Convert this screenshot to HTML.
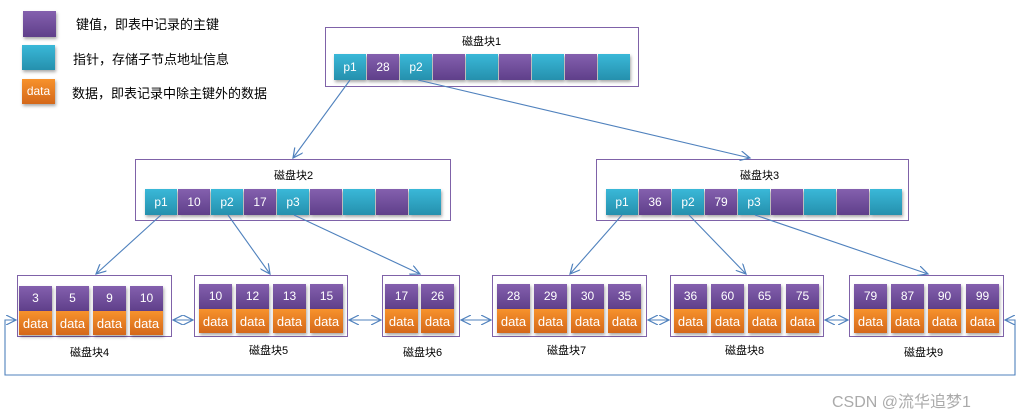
<!DOCTYPE html>
<html><head><meta charset="utf-8"><style>
body{margin:0;width:1020px;height:417px;background:#fff;position:relative;overflow:hidden;font-family:"Liberation Sans","Noto Sans CJK SC",sans-serif}
div{position:absolute;box-sizing:border-box}
.b{border:1.5px solid #7f62a8;background:#fff}
.c{width:32px;height:26px;color:#fff;font-size:12px;text-align:center;line-height:26px;box-shadow:1px 2px 3px rgba(0,0,0,.35)}
.k{background:linear-gradient(#8460ae,#5f3f8a)}
.p{background:linear-gradient(#3ab8d8,#2590ad)}
.d{background:linear-gradient(#f7922c,#d4681a);height:24px;line-height:23px;font-size:13px}
.lk{width:33px;height:25px;line-height:25px}
.t{font-size:11px;color:#000;white-space:nowrap}
.lg{font-size:13px;color:#000;white-space:nowrap}
svg{position:absolute;left:0;top:0}
</style></head><body>
<div class="c k" style="left:23px;top:11px;width:33px;height:26px"></div>
<div class="c p" style="left:22px;top:45px;width:33px;height:25px"></div>
<div class="c d" style="left:22px;top:79px;width:33px;height:25px;line-height:24px;font-size:12px">data</div>
<div class="lg" style="left:76px;top:14px">键值，即表中记录的主键</div>
<div class="lg" style="left:73px;top:49px">指针，存储子节点地址信息</div>
<div class="lg" style="left:72px;top:83px">数据，即表记录中除主键外的数据</div>

<div class="b" style="left:325px;top:27px;width:314px;height:60px"></div>
<div class="t" style="left:462px;top:33px">磁盘块1</div>
<div class="c p" style="left:334px;top:54px">p1</div><div class="c k" style="left:367px;top:54px">28</div><div class="c p" style="left:400px;top:54px">p2</div><div class="c k" style="left:433px;top:54px"></div><div class="c p" style="left:466px;top:54px"></div><div class="c k" style="left:499px;top:54px"></div><div class="c p" style="left:532px;top:54px"></div><div class="c k" style="left:565px;top:54px"></div><div class="c p" style="left:598px;top:54px"></div>

<div class="b" style="left:135px;top:159px;width:316px;height:62px"></div>
<div class="t" style="left:274px;top:167px">磁盘块2</div>
<div class="c p" style="left:145px;top:189px">p1</div><div class="c k" style="left:178px;top:189px">10</div><div class="c p" style="left:211px;top:189px">p2</div><div class="c k" style="left:244px;top:189px">17</div><div class="c p" style="left:277px;top:189px">p3</div><div class="c k" style="left:310px;top:189px"></div><div class="c p" style="left:343px;top:189px"></div><div class="c k" style="left:376px;top:189px"></div><div class="c p" style="left:409px;top:189px"></div>

<div class="b" style="left:596px;top:159px;width:313px;height:62px"></div>
<div class="t" style="left:740px;top:167px">磁盘块3</div>
<div class="c p" style="left:606px;top:189px">p1</div><div class="c k" style="left:639px;top:189px">36</div><div class="c p" style="left:672px;top:189px">p2</div><div class="c k" style="left:705px;top:189px">79</div><div class="c p" style="left:738px;top:189px">p3</div><div class="c k" style="left:771px;top:189px"></div><div class="c p" style="left:804px;top:189px"></div><div class="c k" style="left:837px;top:189px"></div><div class="c p" style="left:870px;top:189px"></div>

<div class="b" style="left:17px;top:275px;width:155px;height:62px"></div>
<div class="t" style="left:70px;top:344px">磁盘块4</div>
<div class="c k lk" style="left:19px;top:286px">3</div><div class="c d lk" style="left:19px;top:311px;height:24px">data</div>
<div class="c k lk" style="left:56px;top:286px">5</div><div class="c d lk" style="left:56px;top:311px;height:24px">data</div>
<div class="c k lk" style="left:93px;top:286px">9</div><div class="c d lk" style="left:93px;top:311px;height:24px">data</div>
<div class="c k lk" style="left:130px;top:286px">10</div><div class="c d lk" style="left:130px;top:311px;height:24px">data</div>

<div class="b" style="left:194px;top:275px;width:154px;height:62px"></div>
<div class="t" style="left:249px;top:342px">磁盘块5</div>
<div class="c k lk" style="left:199px;top:284px">10</div><div class="c d lk" style="left:199px;top:309px;height:24px">data</div>
<div class="c k lk" style="left:236px;top:284px">12</div><div class="c d lk" style="left:236px;top:309px;height:24px">data</div>
<div class="c k lk" style="left:273px;top:284px">13</div><div class="c d lk" style="left:273px;top:309px;height:24px">data</div>
<div class="c k lk" style="left:310px;top:284px">15</div><div class="c d lk" style="left:310px;top:309px;height:24px">data</div>

<div class="b" style="left:382px;top:275px;width:78px;height:62px"></div>
<div class="t" style="left:403px;top:344px">磁盘块6</div>
<div class="c k lk" style="left:385px;top:284px">17</div><div class="c d lk" style="left:385px;top:309px;height:24px">data</div>
<div class="c k lk" style="left:421px;top:284px">26</div><div class="c d lk" style="left:421px;top:309px;height:24px">data</div>

<div class="b" style="left:492px;top:275px;width:155px;height:62px"></div>
<div class="t" style="left:547px;top:342px">磁盘块7</div>
<div class="c k lk" style="left:497px;top:284px">28</div><div class="c d lk" style="left:497px;top:309px;height:24px">data</div>
<div class="c k lk" style="left:534px;top:284px">29</div><div class="c d lk" style="left:534px;top:309px;height:24px">data</div>
<div class="c k lk" style="left:571px;top:284px">30</div><div class="c d lk" style="left:571px;top:309px;height:24px">data</div>
<div class="c k lk" style="left:608px;top:284px">35</div><div class="c d lk" style="left:608px;top:309px;height:24px">data</div>

<div class="b" style="left:670px;top:275px;width:154px;height:62px"></div>
<div class="t" style="left:725px;top:342px">磁盘块8</div>
<div class="c k lk" style="left:674px;top:284px">36</div><div class="c d lk" style="left:674px;top:309px;height:24px">data</div>
<div class="c k lk" style="left:711px;top:284px">60</div><div class="c d lk" style="left:711px;top:309px;height:24px">data</div>
<div class="c k lk" style="left:748px;top:284px">65</div><div class="c d lk" style="left:748px;top:309px;height:24px">data</div>
<div class="c k lk" style="left:786px;top:284px">75</div><div class="c d lk" style="left:786px;top:309px;height:24px">data</div>

<div class="b" style="left:849px;top:275px;width:155px;height:62px"></div>
<div class="t" style="left:904px;top:344px">磁盘块9</div>
<div class="c k lk" style="left:854px;top:284px">79</div><div class="c d lk" style="left:854px;top:309px;height:24px">data</div>
<div class="c k lk" style="left:891px;top:284px">87</div><div class="c d lk" style="left:891px;top:309px;height:24px">data</div>
<div class="c k lk" style="left:928px;top:284px">90</div><div class="c d lk" style="left:928px;top:309px;height:24px">data</div>
<div class="c k lk" style="left:966px;top:284px">99</div><div class="c d lk" style="left:966px;top:309px;height:24px">data</div>

<svg width="1020" height="417">
<defs><marker id="a" markerWidth="12" markerHeight="10" refX="10" refY="5" orient="auto-start-reverse" markerUnits="userSpaceOnUse"><path d="M0,0 L10,5 L0,10" fill="none" stroke="#4f81bd" stroke-width="1.2"/></marker></defs>
<g stroke="#4f81bd" stroke-width="1.1" fill="none" marker-end="url(#a)">
<line x1="350" y1="80" x2="293" y2="158"/>
<line x1="418" y1="80" x2="750" y2="158"/>
<line x1="161" y1="215" x2="96" y2="274"/>
<line x1="228" y1="215" x2="270" y2="274"/>
<line x1="294" y1="215" x2="420" y2="274"/>
<line x1="622" y1="215" x2="570" y2="274"/>
<line x1="689" y1="215" x2="746" y2="274"/>
<line x1="755" y1="215" x2="928" y2="274"/>
<line x1="173" y1="320" x2="193" y2="320" marker-start="url(#a)"/>
<line x1="349" y1="320" x2="381" y2="320" marker-start="url(#a)"/>
<line x1="461" y1="320" x2="491" y2="320" marker-start="url(#a)"/>
<line x1="648" y1="320" x2="669" y2="320" marker-start="url(#a)"/>
<line x1="825" y1="320" x2="848" y2="320" marker-start="url(#a)"/>
<polyline points="1005,320 1015,320 1015,375 5,375 5,320 16,320" marker-start="url(#a)"/>
</g>
</svg>
<div style="left:832px;top:388px;font-size:16px;color:#aaa;white-space:nowrap">CSDN @流华追梦1</div>
</body></html>
